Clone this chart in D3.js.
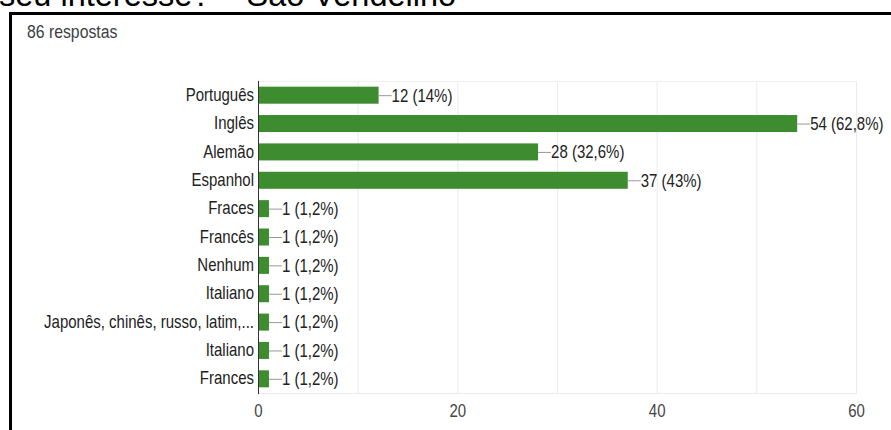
<!DOCTYPE html>
<html>
<head>
<meta charset="utf-8">
<script src="https://cdn.jsdelivr.net/npm/d3@7"></script>
<style>
  html, body { margin: 0; padding: 0; background: #fff; }
  svg { display: block; }
</style>
</head>
<body>
<svg id="chart" width="891" height="430"></svg>
<script>
// Responses per language
const categories = [
  "Português", "Inglês", "Alemão", "Espanhol", "Fraces", "Francês",
  "Nenhum", "Italiano", "Japonês, chinês, russo, latim,...", "Italiano", "Frances"
];
const values = [12, 54, 28, 37, 1, 1, 1, 1, 1, 1, 1];
const totalResponses = 86;
const tickValues = [0, 20, 40, 60];
const gridValues = [0, 10, 20, 30, 40, 50, 60];
const titleText = "seu interesse? – São Vendelino";
const subtitleText = "86 respostas";

const svg = d3.select("#chart");
const font = "'Liberation Sans', Arial, sans-serif";
const stretch = "scale(1,1.18)";

// Heading partly cut off above the card
svg.append("text")
  .attr("x", -1).attr("y", 6)
  .attr("font-family", font).attr("font-size", 32.5)
  .attr("fill", "#000")
  .text(titleText);

// Card frame (left and top edges)
svg.append("rect").attr("x", 9).attr("y", 12).attr("width", 900).attr("height", 3).attr("fill", "#000");
svg.append("rect").attr("x", 9).attr("y", 12).attr("width", 3).attr("height", 430).attr("fill", "#000");

svg.append("text")
  .attr("transform", `translate(27,38) ${stretch}`)
  .attr("font-family", font).attr("font-size", 15.8)
  .attr("fill", "#3c4043")
  .text(subtitleText);

const plot = { left: 258, right: 856, top: 81, bottom: 393 };

const x = d3.scaleLinear().domain([0, 60]).range([plot.left, plot.right]);
const y = d3.scaleBand()
  .domain(d3.range(categories.length))
  .range([plot.top, plot.bottom])
  .paddingInner(0.4).paddingOuter(0.2);

// Grid
const g = svg.append("g");
g.selectAll("line.grid").data(gridValues.slice(1)).join("line")
  .attr("class", "grid")
  .attr("x1", d => x(d) + 0.5).attr("x2", d => x(d) + 0.5)
  .attr("y1", plot.top).attr("y2", plot.bottom)
  .attr("stroke", "#ebebeb").attr("stroke-width", 1);
g.append("line")
  .attr("x1", plot.left).attr("x2", plot.right + 1)
  .attr("y1", plot.top + 0.5).attr("y2", plot.top + 0.5)
  .attr("stroke", "#f0f0f0");
g.append("line")
  .attr("x1", plot.left).attr("x2", plot.right + 1)
  .attr("y1", plot.bottom + 0.5).attr("y2", plot.bottom + 0.5)
  .attr("stroke", "#ebebeb");

// Bars
g.selectAll("rect.bar").data(values).join("rect")
  .attr("class", "bar")
  .attr("x", x(0) + 1)
  .attr("y", (d, i) => y(i))
  .attr("width", d => x(d) - x(0))
  .attr("height", y.bandwidth())
  .attr("fill", "#3d8c2f");

// Value annotations: leader line + "n (p%)"
const pct = v => {
  const p = Math.round(v / totalResponses * 1000) / 10;
  return (p % 1 === 0 ? p.toFixed(0) : p.toFixed(1).replace(".", ",")) + "%";
};
g.selectAll("line.lead").data(values).join("line")
  .attr("class", "lead")
  .attr("x1", d => x(d) + 1).attr("x2", d => x(d) + 14)
  .attr("y1", (d, i) => y(i) + y.bandwidth() / 2 + 0.5)
  .attr("y2", (d, i) => y(i) + y.bandwidth() / 2 + 0.5)
  .attr("stroke", "#999").attr("stroke-width", 1);
g.selectAll("text.val").data(values).join("text")
  .attr("class", "val")
  .attr("transform", (d, i) => `translate(${x(d) + 14},${y(i) + y.bandwidth() / 2}) ${stretch}`)
  .attr("dy", "0.36em")
  .attr("font-family", font).attr("font-size", 15)
  .attr("fill", "#222")
  .text(d => `${d} (${pct(d)})`);

// Category axis
const yAxis = d3.axisLeft(y).tickSize(0).tickPadding(4).tickFormat(i => categories[i]);
const ya = svg.append("g").attr("transform", `translate(${plot.left},0)`).call(yAxis);
ya.select(".domain").remove();
ya.selectAll("text")
  .attr("font-family", font).attr("font-size", 15).attr("fill", "#222")
  .attr("transform", stretch);
svg.append("line")
  .attr("x1", plot.left + 0.5).attr("x2", plot.left + 0.5)
  .attr("y1", plot.top).attr("y2", plot.bottom + 1)
  .attr("stroke", "#333").attr("stroke-width", 1);

// Value axis
const xAxis = d3.axisBottom(x).tickValues(tickValues).tickSize(0).tickPadding(0);
const xa = svg.append("g").attr("transform", `translate(0,${plot.bottom})`).call(xAxis);
xa.select(".domain").remove();
xa.selectAll("text")
  .attr("y", 0).attr("dy", 0)
  .attr("transform", `translate(0,24) ${stretch}`)
  .attr("font-family", font).attr("font-size", 15).attr("fill", "#444");
</script>
</body>
</html>
